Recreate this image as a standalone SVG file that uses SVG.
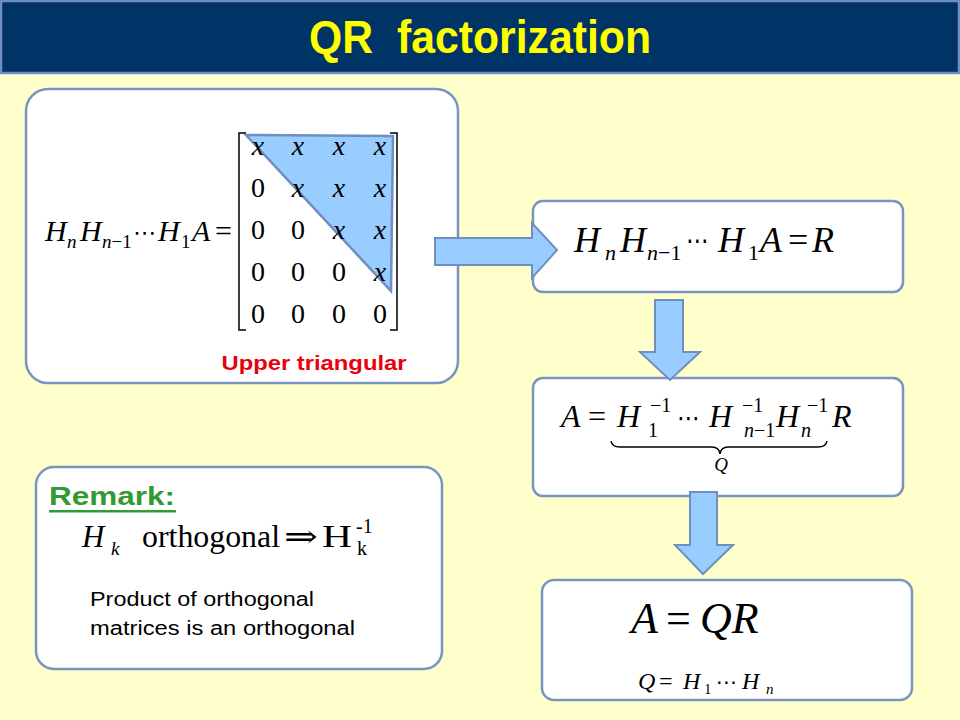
<svg xmlns="http://www.w3.org/2000/svg" width="960" height="720" viewBox="0 0 960 720">
<defs>
<style>
.box{fill:#ffffff;stroke:#7894bf;stroke-width:2.5}
.arrow{fill:#99ccff;stroke:#6f8fbf;stroke-width:2;stroke-linejoin:miter}
.m{font-family:"Liberation Serif","DejaVu Serif",serif;font-style:italic;fill:#000}
.r{font-family:"Liberation Serif","DejaVu Serif",serif;font-style:normal;fill:#000}
.d{font-family:"DejaVu Sans",sans-serif;fill:#000}
.s{font-family:"Liberation Sans",Arial,sans-serif;fill:#000}
</style>
</defs>
<rect x="0" y="0" width="960" height="720" fill="#ffffcc"/>
<g id="title">
<rect x="1" y="1" width="958" height="72" fill="#003366" stroke="#6f8fbf" stroke-width="2.5"/>
<text y="53" font-family="Liberation Sans,Arial,sans-serif" font-weight="bold" font-size="46" fill="#ffff00"><tspan x="309" textLength="64" lengthAdjust="spacingAndGlyphs">QR</tspan> <tspan x="397" textLength="254" lengthAdjust="spacingAndGlyphs">factorization</tspan></text>
</g>
<g id="node-matrix">
<rect class="box" x="26" y="89" width="432" height="294" rx="22"/>
<polygon points="246,135 393,136 391,291" fill="#99ccff" stroke="#6f8fbf" stroke-width="2.5"/>
<path d="M246,133 H239 V330 H246 M390,133 H397 V330 H390" fill="none" stroke="#000" stroke-width="1.5"/>
<g font-size="28" text-anchor="middle">
<text class="m" x="258" y="155">x</text><text class="m" x="298" y="155">x</text><text class="m" x="339" y="155">x</text><text class="m" x="380" y="155">x</text>
<text class="r" x="258" y="197">0</text><text class="m" x="298" y="197">x</text><text class="m" x="339" y="197">x</text><text class="m" x="380" y="197">x</text>
<text class="r" x="258" y="239">0</text><text class="r" x="298" y="239">0</text><text class="m" x="339" y="239">x</text><text class="m" x="380" y="239">x</text>
<text class="r" x="258" y="281">0</text><text class="r" x="298" y="281">0</text><text class="r" x="339" y="281">0</text><text class="m" x="380" y="281">x</text>
<text class="r" x="258" y="323">0</text><text class="r" x="298" y="323">0</text><text class="r" x="339" y="323">0</text><text class="r" x="380" y="323">0</text>
</g>
<text class="m" x="45" y="241" font-size="30">H</text>
<text class="m" x="67" y="248" font-size="19">n</text>
<text class="m" x="80" y="241" font-size="30">H</text>
<text class="m" x="102" y="248" font-size="19">n<tspan class="r">−1</tspan></text>
<text class="d" x="133" y="240" font-size="22" textLength="23" lengthAdjust="spacingAndGlyphs">⋯</text>
<text class="m" x="158" y="241" font-size="30">H</text>
<text class="r" x="181" y="248" font-size="19">1</text>
<text class="m" x="192" y="241" font-size="30">A</text>
<text class="r" x="215" y="241" font-size="30">=</text>
<text x="314" y="370" text-anchor="middle" font-family="Liberation Sans,Arial,sans-serif" font-weight="bold" font-size="20" fill="#e8000b" textLength="185" lengthAdjust="spacingAndGlyphs">Upper triangular</text>
</g>
<g id="node-R">
<rect class="box" x="533" y="201" width="370" height="91" rx="10"/>
<text class="m" x="574" y="252" font-size="36">H</text>
<text class="m" x="605" y="260" font-size="22">n</text>
<text class="m" x="620" y="252" font-size="36">H</text>
<text class="m" x="647" y="260" font-size="22">n<tspan class="r">−1</tspan></text>
<text class="d" x="686" y="250" font-size="28" textLength="23" lengthAdjust="spacingAndGlyphs">⋯</text>
<text class="m" x="718" y="252" font-size="36">H</text>
<text class="r" x="748" y="260" font-size="22">1</text>
<text class="m" x="760" y="252" font-size="36">A</text>
<text class="r" x="788" y="252" font-size="36">=</text>
<text class="m" x="812" y="252" font-size="36">R</text>
</g>
<g id="node-A">
<rect class="box" x="533" y="378" width="370" height="118" rx="10"/>
<text class="m" x="561" y="427" font-size="32">A</text>
<text class="r" x="588" y="427" font-size="32">=</text>
<text class="m" x="617" y="427" font-size="32">H</text>
<text class="r" x="650" y="412" font-size="20">−1</text>
<text class="r" x="648" y="437" font-size="20">1</text>
<text class="d" x="677" y="427" font-size="26" textLength="23" lengthAdjust="spacingAndGlyphs">⋯</text>
<text class="m" x="709" y="427" font-size="32">H</text>
<text class="r" x="742" y="412" font-size="20">−1</text>
<text class="m" x="744" y="437" font-size="20">n<tspan class="r">−1</tspan></text>
<text class="m" x="776" y="427" font-size="32">H</text>
<text class="r" x="807" y="412" font-size="20">−1</text>
<text class="m" x="801" y="437" font-size="20">n</text>
<text class="m" x="832" y="427" font-size="32">R</text>
<path d="M611,441 Q612,447 620,447 H712 Q719,447 720,454 Q721,447 728,447 H818 Q826,447 827,441" fill="none" stroke="#000" stroke-width="1.5"/>
<text class="m" x="721" y="471" font-size="19" text-anchor="middle">Q</text>
</g>
<g id="node-QR">
<rect class="box" x="542" y="580" width="370" height="120" rx="12"/>
<text class="m" x="631" y="633" font-size="44">A</text>
<text class="r" x="666" y="633" font-size="44">=</text>
<text class="m" x="700" y="633" font-size="44">QR</text>
<text class="m" x="638" y="689" font-size="24">Q</text>
<text class="r" x="659" y="689" font-size="24">=</text>
<text class="m" x="683" y="689" font-size="24">H</text>
<text class="r" x="704" y="694" font-size="15">1</text>
<text class="d" x="716" y="689" font-size="20" textLength="21" lengthAdjust="spacingAndGlyphs">⋯</text>
<text class="m" x="742" y="689" font-size="24">H</text>
<text class="m" x="766" y="694" font-size="15">n</text>
</g>
<g id="node-remark">
<rect class="box" x="36" y="467" width="406" height="202" rx="18"/>
<text x="49" y="505" font-family="Liberation Sans,Arial,sans-serif" font-weight="bold" font-size="26" fill="#339933" textLength="126" lengthAdjust="spacingAndGlyphs">Remark:</text>
<rect x="49" y="510" width="127" height="2.5" fill="#339933"/>
<text class="m" x="82" y="547" font-size="31">H</text>
<text class="m" x="111" y="555" font-size="19">k</text>
<text class="r" x="142" y="547" font-size="31" textLength="138" lengthAdjust="spacingAndGlyphs">orthogonal</text>
<text class="r" x="284" y="547" font-size="31" textLength="34" lengthAdjust="spacingAndGlyphs">⇒</text>
<text class="r" x="322" y="547" font-size="31" textLength="30" lengthAdjust="spacingAndGlyphs">H</text>
<text class="r" x="356" y="533" font-size="20">-1</text>
<text class="r" x="357" y="555" font-size="20">k</text>
<text class="s" x="90" y="606" font-size="20" textLength="224" lengthAdjust="spacingAndGlyphs">Product of orthogonal</text>
<text class="s" x="90" y="635" font-size="20" textLength="265" lengthAdjust="spacingAndGlyphs">matrices is an orthogonal</text>
</g>
<g id="connectors">
<path class="arrow" d="M435,238 H532 V223 L557,250 L532,278 V265 H435 Z"/>
<path class="arrow" d="M655,300 H683 V352 H700 L670,380 L640,352 H655 Z"/>
<path class="arrow" d="M690,492 H717 V545 H733 L703,574 L675,545 H690 Z"/>
</g>
</svg>
